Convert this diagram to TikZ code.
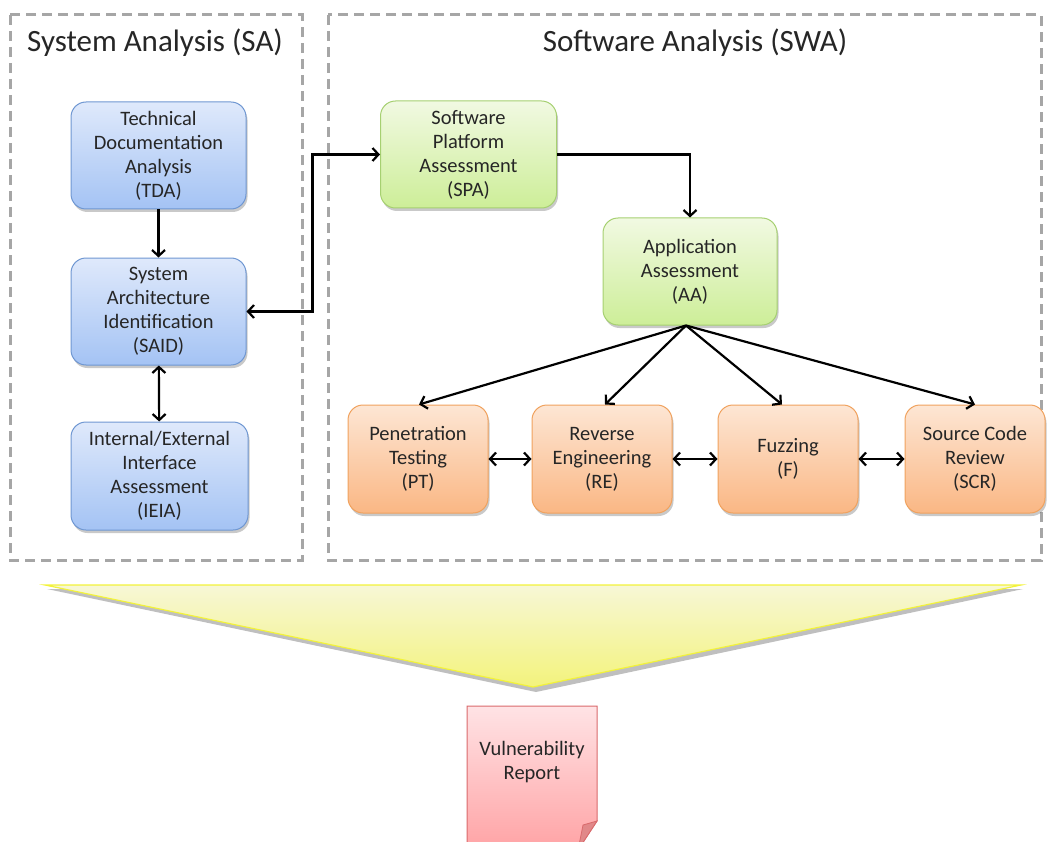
\documentclass[tikz,border=0pt]{standalone}
\usepackage{fontspec}
\setmainfont{Carlito}
\usetikzlibrary{arrows.meta,shadows,calc}

\definecolor{txt}{HTML}{262626}
\definecolor{dashgray}{HTML}{A6A6A6}
\definecolor{blueT}{HTML}{DFE9FB}
\definecolor{blueB}{HTML}{A4C3F4}
\definecolor{blueE}{HTML}{6F97D2}
\definecolor{greenT}{HTML}{F1F9E2}
\definecolor{greenB}{HTML}{CDEE98}
\definecolor{greenE}{HTML}{A6D071}
\definecolor{orangeT}{HTML}{FDE6D4}
\definecolor{orangeB}{HTML}{FAB784}
\definecolor{orangeE}{HTML}{F0A25E}
\definecolor{redT}{HTML}{FFE3E5}
\definecolor{redB}{HTML}{FFA3A5}
\definecolor{redE}{HTML}{D96A6C}
\definecolor{yelT}{HTML}{F7F7D6}
\definecolor{yelB}{HTML}{F3F37C}
\definecolor{yelE}{HTML}{F2F23A}

\tikzset{
  box/.style={rounded corners=15pt, draw, line width=1pt, align=center,
    text=txt, font=\fontsize{20.5}{24}\selectfont, inner sep=0pt,
    drop shadow={shadow xshift=1.5pt, shadow yshift=-3pt, opacity=0.3, fill=black!70}},
  sabox/.style={box, draw=blueE, top color=blueT, bottom color=blueB,
    minimum width=175pt, minimum height=107pt},
  swbox/.style={box, draw=greenE, top color=greenT, bottom color=greenB,
    minimum width=176pt, minimum height=107pt},
  exbox/.style={box, draw=orangeE, top color=orangeT, bottom color=orangeB,
    minimum width=140pt, minimum height=108pt},
  region/.style={draw=dashgray, line width=3pt, dash pattern=on 10pt off 6pt},
  heading/.style={text=txt, font=\fontsize{31}{36}\selectfont},
  conn/.style={draw=black, line width=2.2pt,
    -{Straight Barb[length=6pt,width=13pt,line width=2.2pt]}},
  dconn/.style={draw=black, line width=2.2pt,
    {Straight Barb[length=6pt,width=13pt,line width=2.2pt]}-{Straight Barb[length=6pt,width=13pt,line width=2.2pt]}}
}

\begin{document}
\begin{tikzpicture}[x=1pt,y=-1pt]
\useasboundingbox (0,0) rectangle (1048,842);

% dashed regions
\draw[region] (10,15) rectangle (302,560);
\draw[region] (328,15) rectangle (1041,560);
\node[heading] (satitle) at (155,43) {System Analysis (SA)};
\node[heading] (swatitle) at (695,43) {Software Analysis (SWA)};

% system analysis steps
\node[sabox] (tda) at (158.5,155.5) {Technical\\Documentation\\Analysis\\(TDA)};
\node[sabox] (said) at (158.5,311.5) {System\\Architecture\\Identification\\(SAID)};
\node[sabox, minimum width=177pt, minimum height=108pt] (ieia) at (159.5,476) {Internal/External\\Interface\\Assessment\\(IEIA)};

% software analysis steps
\node[swbox] (spa) at (468.5,154.5) {Software\\Platform\\Assessment\\(SPA)};
\node[swbox, minimum width=174pt] (aa) at (690,271.5) {Application\\Assessment\\(AA)};

\node[exbox] (pt) at (418,459) {Penetration\\Testing\\(PT)};
\node[exbox] (re) at (602,459) {Reverse\\Engineering\\(RE)};
\node[exbox] (fz) at (788,459) {Fuzzing\\(F)};
\node[exbox] (scr) at (975,459) {Source Code\\Review\\(SCR)};

% connectors
\draw[conn] (tda) -- (said);
\draw[dconn] (said) -- (ieia);
\draw[dconn] (said.east) -- ++(66,0) |- (spa.west);
\draw[conn] (spa.east) -| (aa.north);
\coordinate (fan) at ($(aa.south)+(-4,0)$);
\draw[conn] (fan) -- ($(pt.north)+(1,0)$);
\draw[conn] (fan) -- ($(re.north)+(3,0)$);
\draw[conn] (fan) -- ($(fz.north)+(-6,0)$);
\draw[conn] (fan) -- (scr.north);
\draw[dconn] (pt) -- (re);
\draw[dconn] (re) -- (fz);
\draw[dconn] (fz) -- (scr);

% funnel
\fill[black, opacity=0.25] (47,589) -- (1023,589) -- (536,692) -- cycle;
\shade[top color=yelT, bottom color=yelB, draw=yelE, line width=1.2pt]
  (45,585) -- (1021,585) -- (533,687) -- cycle;

% report sheet with folded corner
\begin{scope}
\clip (0,0) rectangle (1048,842);
\shade[top color=redT, bottom color=redB, draw=redE, line width=1pt]
  (467,706) -- (597,706) -- (597,821) -- (578,850) -- (467,850) -- cycle;
\fill[redE!80!white, draw=redE, line width=0.8pt]
  (597,821) -- (583,825) -- (578,850) -- cycle;
\end{scope}
\node[text=txt, font=\fontsize{20.5}{24}\selectfont, align=center] (report) at (532,762) {Vulnerability\\Report};
\end{tikzpicture}
\end{document}
